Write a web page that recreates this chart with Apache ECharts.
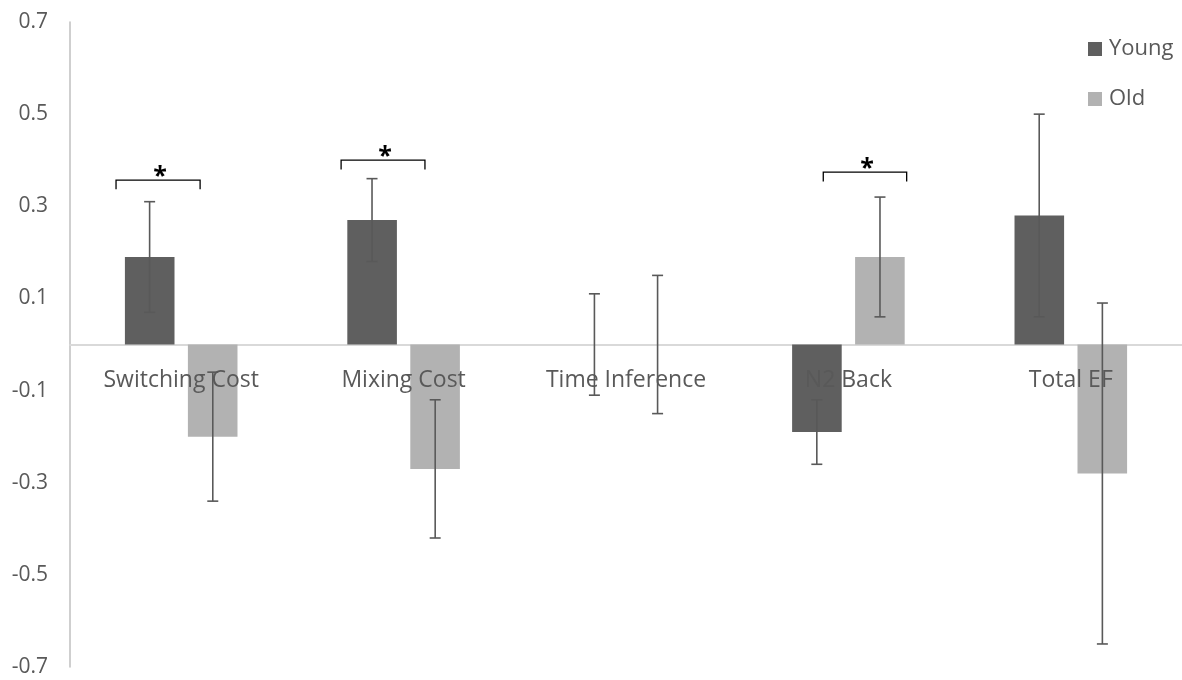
<!DOCTYPE html>
<html>
<head>
<meta charset="utf-8">
<script src="https://cdn.jsdelivr.net/npm/echarts@6/dist/echarts.min.js"></script>
<style>
  html, body { margin: 0; padding: 0; background: #fff; }
  #chart { width: 1182px; height: 680px; }
</style>
</head>
<body>
<div id="chart"></div>
<script>
// categories and values
var categories = ['Switching Cost', 'Mixing Cost', 'Time Inference', 'N2 Back', 'Total EF'];
var youngValues = [0.19, 0.27, 0, -0.19, 0.28];
var youngErrors = [0.12, 0.09, 0.11, 0.07, 0.22];
var oldValues = [-0.20, -0.27, 0, 0.19, -0.28];
var oldErrors = [0.14, 0.15, 0.15, 0.13, 0.37];

// significance brackets: category index, height, left / right edge (fraction of category width)
var bracketCats = [0, 1, 3];
var bracketHeights = [0.357, 0.40, 0.374];
var bracketLeft = [-0.293, -0.281, -0.113];
var bracketRight = [0.085, 0.096, 0.262];

var FONT = '"Open Sans"';
var TEXT_COLOR = '#595959';
var YOUNG_COLOR = '#5f5f5f';
var OLD_COLOR = '#b2b2b2';
var ERR_COLOR = '#595959';

var chart = echarts.init(document.getElementById('chart'));

// offset of each bar centre from the category centre, in category widths
var BAR_SHIFT = 0.142;

function errorSeries(name, values, errors, side) {
    return {
        name: name,
        type: 'custom',
        z: 5,
        silent: true,
        encode: { x: 0, y: 1 },
        data: values.map(function (v, i) { return [i, v, errors[i]]; }),
        renderItem: function (params, api) {
            var i = api.value(0), v = api.value(1), e = api.value(2);
            var catW = api.size([1, 0])[0];
            var c = api.coord([i, v]);
            var hi = api.coord([i, v + e]);
            var lo = api.coord([i, v - e]);
            var x = c[0] + side * catW * BAR_SHIFT;
            var hw = 5.5;
            var style = { stroke: ERR_COLOR, lineWidth: 1.6, fill: null };
            return {
                type: 'group',
                children: [
                    { type: 'line', shape: { x1: x, y1: hi[1], x2: x, y2: lo[1] }, style: style },
                    { type: 'line', shape: { x1: x - hw, y1: hi[1], x2: x + hw, y2: hi[1] }, style: style },
                    { type: 'line', shape: { x1: x - hw, y1: lo[1], x2: x + hw, y2: lo[1] }, style: style }
                ]
            };
        }
    };
}

var bracketData = bracketCats.map(function (c, i) {
    return [c, bracketHeights[i], bracketLeft[i], bracketRight[i]];
});

chart.setOption({
    animation: false,
    textStyle: { fontFamily: FONT },
    grid: [
        { left: 70, right: 0, top: 22, bottom: 13, outerBoundsMode: 'none' },
        // upper half only, so its category labels sit just under the zero line
        { left: 70, right: 0, top: 22, bottom: 335.5, outerBoundsMode: 'none' }
    ],
    legend: {
        orient: 'vertical',
        left: 1088,
        top: 38,
        padding: 0,
        icon: 'rect',
        itemWidth: 14,
        itemHeight: 14,
        itemGap: 28,
        data: ['Young', 'Old'],
        textStyle: { fontFamily: FONT, fontSize: 22, color: TEXT_COLOR, padding: [0, 0, 0, 2] }
    },
    xAxis: [
        {
            type: 'category',
            data: categories,
            axisLine: { onZero: true, lineStyle: { color: '#d9d9d9', width: 2 } },
            axisTick: { show: false },
            axisLabel: { show: false }
        },
        {
            type: 'category',
            gridIndex: 1,
            data: categories,
            z: 3,
            axisLine: { show: false },
            axisTick: { show: false },
            axisLabel: { fontFamily: FONT, fontSize: 23, color: TEXT_COLOR, margin: 24, interval: 0 }
        }
    ],
    yAxis: [
        {
            type: 'value',
            min: -0.7,
            max: 0.7,
            interval: 0.2,
            axisLine: { show: true, lineStyle: { color: '#bfbfbf', width: 1.5 } },
            axisTick: { show: false },
            splitLine: { show: false },
            axisLabel: {
                fontFamily: FONT, fontSize: 21, color: TEXT_COLOR, margin: 22,
                padding: [4, 0, 0, 0],
                formatter: function (v) { return v.toFixed(1); }
            }
        },
        { type: 'value', gridIndex: 1, min: 0, max: 1, show: false }
    ],
    series: [
        {
            name: 'Young',
            type: 'bar',
            data: youngValues,
            barWidth: '22.3%',
            barGap: '27%',
            itemStyle: { color: YOUNG_COLOR }
        },
        {
            name: 'Old',
            type: 'bar',
            data: oldValues,
            barWidth: '22.3%',
            barGap: '27%',
            itemStyle: { color: OLD_COLOR }
        },
        errorSeries('Young error', youngValues, youngErrors, -1),
        errorSeries('Old error', oldValues, oldErrors, 1),
        {
            name: 'brackets',
            type: 'custom',
            z: 6,
            silent: true,
            encode: { x: 0, y: 1 },
            data: bracketData,
            renderItem: function (params, api) {
                var c = api.coord([api.value(0), api.value(1)]);
                var catW = api.size([1, 0])[0];
                var tick = api.size([0, 0.02])[1];
                var x1 = c[0] + api.value(2) * catW;
                var x2 = c[0] + api.value(3) * catW;
                var y = c[1];
                return {
                    type: 'group',
                    children: [
                        {
                            type: 'polyline',
                            shape: { points: [[x1, y + tick], [x1, y], [x2, y], [x2, y + tick]] },
                            style: { stroke: '#000', lineWidth: 1.3, fill: null }
                        },
                        {
                            type: 'text',
                            style: {
                                x: (x1 + x2) / 2 + 2, y: y + 9, text: '*',
                                align: 'center', verticalAlign: 'bottom',
                                font: 'bold 25px ' + FONT, fill: '#000'
                            }
                        }
                    ]
                };
            }
        }
    ]
});
</script>
</body>
</html>
